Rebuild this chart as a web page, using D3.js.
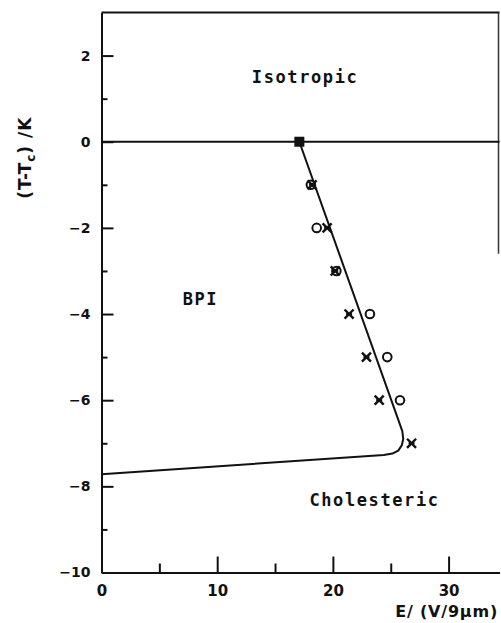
<!DOCTYPE html>
<html>
<head>
<meta charset="utf-8">
<script src="https://cdn.jsdelivr.net/npm/d3@7"></script>
<style>
  body { margin: 0; background: #fff; }
  svg { display: block; }
  .tick text { font-family: "DejaVu Sans", sans-serif; font-weight: bold; font-size: 14px; fill: #111; }
  .xax .tick text { font-size: 15px; }
  .phase { font-family: "DejaVu Sans Mono", monospace; font-weight: bold; font-size: 17px; fill: #111; }
</style>
</head>
<body>
<div id="chart"></div>
<script>
// values
const majorX = [0, 10, 20, 30];
const minorX = [5, 15, 25];
const majorY = [2, 0, -2, -4, -6, -8, -10];
const minorY = [1, -1, -3, -5, -7, -9];

// measured points: field E (V/9um) against T - Tc (K)
const squareE = [17.1];
const squareT = [0];
const circleE = [18.1, 18.6, 20.3, 23.2, 24.7, 25.8];
const circleT = [-1, -2, -3, -4, -5, -6];
const crossE = [18.2, 19.5, 20.2, 21.4, 22.9, 24.0, 26.8];
const crossT = [-1, -2, -3, -4, -5, -6, -7];

// phase boundary drawn by hand in the original
const boundaryE = [17.1, 26.0, 26.08, 25.95, 25.65, 25.15, 24.4, 0];
const boundaryT = [0, -6.72, -6.9, -7.05, -7.17, -7.24, -7.27, -7.72];

const phases = [
  { name: "Isotropic", e: 17.6, t: 1.36 },
  { name: "BPI", e: 8.55, t: -3.79 },
  { name: "Cholesteric", e: 23.6, t: -8.45 }
];

const width = 501, height = 623;
const margin = { top: 12.5, right: 1.5, bottom: 50.5, left: 101.5 };

const svg = d3.select("#chart").append("svg")
  .attr("width", width)
  .attr("height", height);

const x = d3.scaleLinear()
  .domain([0, 34.4])
  .range([margin.left, width - margin.right]);

const y = d3.scaleLinear()
  .domain([-10, 3])
  .range([height - margin.bottom, margin.top]);

// axes, ticks pointing into the plot
svg.append("g")
  .attr("transform", `translate(${margin.left},0)`)
  .call(d3.axisLeft(y).tickValues(majorY).tickSizeInner(-12).tickSizeOuter(0).tickPadding(11)
    .tickFormat(d => d < 0 ? "\u2212" + Math.abs(d) : d));
svg.append("g")
  .attr("transform", `translate(${margin.left},0)`)
  .call(d3.axisLeft(y).tickValues(minorY).tickSizeInner(-6).tickSizeOuter(0).tickFormat(""));

svg.append("g")
  .attr("class", "xax")
  .attr("transform", `translate(0,${height - margin.bottom})`)
  .call(d3.axisBottom(x).tickValues(majorX).tickSizeInner(-16).tickSizeOuter(0).tickPadding(13));
svg.append("g")
  .attr("transform", `translate(0,${height - margin.bottom})`)
  .call(d3.axisBottom(x).tickValues(minorX).tickSizeInner(-9).tickSizeOuter(0).tickFormat(""));

svg.selectAll(".domain, .tick line")
  .attr("stroke", "#111")
  .attr("stroke-width", 2);

// frame: top and the visible part of the right side
svg.append("line")
  .attr("x1", x(0)).attr("x2", x(34.4))
  .attr("y1", y(3)).attr("y2", y(3))
  .attr("stroke", "#111").attr("stroke-width", 2);
svg.append("line")
  .attr("x1", x(34.4) - 1).attr("x2", x(34.4) - 1)
  .attr("y1", y(3)).attr("y2", y(-2.6))
  .attr("stroke", "#333").attr("stroke-width", 1.5);

// T = Tc
svg.append("line")
  .attr("x1", x(0)).attr("x2", x(34.4))
  .attr("y1", y(0)).attr("y2", y(0))
  .attr("stroke", "#111").attr("stroke-width", 2);

const boundary = boundaryE.map((e, i) => [e, boundaryT[i]]);
svg.append("path")
  .datum(boundary)
  .attr("fill", "none")
  .attr("stroke", "#111")
  .attr("stroke-width", 2)
  .attr("stroke-linejoin", "round")
  .attr("d", d3.line().x(d => x(d[0])).y(d => y(d[1])));

// markers
svg.selectAll(".sq")
  .data(squareE.map((e, i) => [e, squareT[i]]))
  .join("rect")
  .attr("x", d => x(d[0]) - 5).attr("y", d => y(d[1]) - 5)
  .attr("width", 10).attr("height", 10)
  .attr("fill", "#111");

svg.selectAll(".circ")
  .data(circleE.map((e, i) => [e, circleT[i]]))
  .join("circle")
  .attr("cx", d => x(d[0])).attr("cy", d => y(d[1]))
  .attr("r", 4.3)
  .attr("fill", "none")
  .attr("stroke", "#111")
  .attr("stroke-width", 2);

const cross = svg.selectAll(".cross")
  .data(crossE.map((e, i) => [e, crossT[i]]))
  .join("g")
  .attr("transform", d => `translate(${x(d[0])},${y(d[1])})`);
cross.append("path")
  .attr("d", d3.symbol(d3.symbolTimes, 55)())
  .attr("fill", "none")
  .attr("stroke", "#111")
  .attr("stroke-width", 2.4);
cross.append("line")
  .attr("x1", -3).attr("x2", 3)
  .attr("stroke", "#111")
  .attr("stroke-width", 2);

// phase labels
svg.selectAll(".phase")
  .data(phases)
  .join("text")
  .attr("class", "phase")
  .attr("x", d => x(d.e))
  .attr("y", d => y(d.t))
  .attr("text-anchor", "middle")
  .attr("letter-spacing", "1.6px")
  .text(d => d.name);

// axis titles
svg.append("text")
  .attr("transform", `translate(31,${y(-0.37)}) rotate(-90)`)
  .attr("text-anchor", "middle")
  .attr("font-family", "DejaVu Sans, sans-serif")
  .attr("font-weight", "bold")
  .attr("font-size", 17)
  .attr("letter-spacing", "1px")
  .attr("fill", "#111")
  .text("(T-T")
  .append("tspan").attr("font-size", 12).attr("dy", 4).text("c")
  .select(function () { return this.parentNode; })
  .append("tspan").attr("dy", -4).text(") /K");

svg.append("text")
  .attr("x", width - 3)
  .attr("y", height - 6)
  .attr("text-anchor", "end")
  .attr("font-family", "DejaVu Sans, sans-serif")
  .attr("font-weight", "bold")
  .attr("font-size", 16)
  .attr("letter-spacing", "0.8px")
  .attr("fill", "#111")
  .text("E/ (V/9\u00b5m)");
</script>
</body>
</html>
